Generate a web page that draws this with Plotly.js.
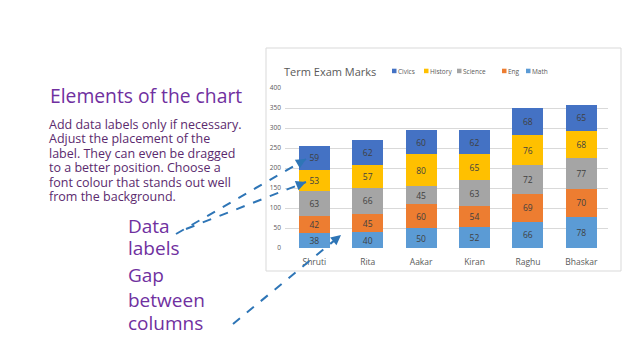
<!DOCTYPE html>
<html>
<head>
<meta charset="utf-8">
<script src="https://cdn.plot.ly/plotly-3.0.1.min.js"></script>
<style>
html,body{margin:0;padding:0;background:#fff;}
#chart{width:638px;height:359px;}
</style>
</head>
<body>
<div id="chart"></div>
<script>
// ---- data ----
const students = ["Shruti", "Rita", "Aakar", "Kiran", "Raghu", "Bhaskar"];
const seriesNames = ["Math", "Eng", "Science", "History", "Civics"];
const math    = [38, 40, 50, 52, 66, 78];
const eng     = [42, 45, 60, 54, 69, 70];
const science = [63, 66, 45, 63, 72, 77];
const history = [53, 57, 80, 65, 76, 68];
const civics  = [59, 62, 60, 62, 68, 65];
const yTicks  = [0, 50, 100, 150, 200, 250, 300, 350, 400];
const chartTitle = "Term Exam Marks";
const heading = "Elements of the chart";
const paragraph = ["Add data labels only if necessary.", "Adjust the placement of the", "label. They can even be dragged", "to a better position. Choose a", "font colour that stands out well", "from the background."];
const callout1 = ["Data", "labels"];
const callout2 = ["Gap", "between", "columns"];

// ---- styling ----
const colors = ["#5b9bd5", "#ed7d31", "#a5a5a5", "#ffc000", "#4472c4"];
const seriesValues = [math, eng, science, history, civics];
const FONT = "Open Sans, DejaVu Sans, sans-serif";
const L = 285, T = 88, W = 323, H = 160, FW = 638, FH = 359;
const px = x => (x - L) / W;
const py = y => (T + H - y) / H;

const traces = seriesNames.map((name, i) => ({
  type: "bar",
  name: name,
  x: students,
  y: seriesValues[i],
  text: seriesValues[i].map(String),
  textposition: "inside",
  insidetextanchor: "middle",
  constraintext: "none",
  textangle: 0,
  textfont: {family: FONT, size: 8.5, color: "#404040"},
  marker: {color: colors[i], line: {width: 0}},
  hoverinfo: "skip",
  showlegend: false
}));

const annotations = [];
const shapes = [];

// chart frame
shapes.push({type: "rect", xref: "paper", yref: "paper", x0: px(266), x1: px(621), y0: py(48), y1: py(271),
  line: {color: "#d9d9d9", width: 1}, fillcolor: "rgba(0,0,0,0)", layer: "below"});

// chart title
annotations.push({xref: "paper", yref: "paper", x: px(282), y: py(71), xanchor: "left", yanchor: "middle",
  text: chartTitle, showarrow: false, font: {family: FONT, size: 11, color: "#595959"}});

// manual legend (Civics first)
const legTextX = [398, 430, 463, 508, 532];
const legOrder = [4, 3, 2, 1, 0];
legOrder.forEach((si, k) => {
  const tx = legTextX[k];
  shapes.push({type: "rect", xref: "paper", yref: "paper", x0: px(tx - 6), x1: px(tx - 1.5), y0: py(68.7), y1: py(73.2),
    line: {width: 0}, fillcolor: colors[si]});
  annotations.push({xref: "paper", yref: "paper", x: px(tx - 1), y: py(71), xanchor: "left", yanchor: "middle",
    text: seriesNames[si], showarrow: false, borderpad: 0, font: {family: FONT, size: 6.5, color: "#595959"}});
});

// heading + paragraph
annotations.push({xref: "paper", yref: "paper", x: px(48), y: py(95), xanchor: "left", yanchor: "middle",
  text: heading, showarrow: false, font: {family: FONT, size: 19.3, color: "#7030a0"}});
const paraY = [124, 138.5, 153, 167.5, 182, 196.5];
paragraph.forEach((t, i) => annotations.push({xref: "paper", yref: "paper", x: px(48), y: py(paraY[i]),
  xanchor: "left", yanchor: "middle", text: t, showarrow: false, borderpad: 0,
  font: {family: FONT, size: 12.5, color: "#5b2a6e"}}));
const c1Y = [226, 248], c2Y = [275, 300, 323];
callout1.forEach((t, i) => annotations.push({xref: "paper", yref: "paper", x: px(127), y: py(c1Y[i]),
  xanchor: "left", yanchor: "middle", text: t, showarrow: false, borderpad: 0,
  font: {family: FONT, size: 19, color: "#7030a0"}}));
callout2.forEach((t, i) => annotations.push({xref: "paper", yref: "paper", x: px(127), y: py(c2Y[i]),
  xanchor: "left", yanchor: "middle", text: t, showarrow: false, borderpad: 0,
  font: {family: FONT, size: 19, color: "#7030a0"}}));

// dashed arrows
const arrowColor = "#2e75b6";
const arrows = [[176, 234, 306, 159], [186, 229, 306, 182], [233, 324, 341, 235]];
arrows.forEach(([x0, y0, x1, y1]) => {
  shapes.push({type: "line", xref: "paper", yref: "paper", x0: px(x0), y0: py(y0), x1: px(x1), y1: py(y1),
    line: {color: arrowColor, width: 2, dash: "dash"}});
  const len = Math.hypot(x1 - x0, y1 - y0);
  const ux = (x1 - x0) / len, uy = (y1 - y0) / len;
  annotations.push({xref: "paper", yref: "paper", x: px(x1), y: py(y1), ax: -ux * 6, ay: -uy * 6,
    showarrow: true, arrowhead: 2, arrowsize: 1, arrowwidth: 2, arrowcolor: arrowColor, text: ""});
});

const layout = {
  width: FW, height: FH,
  margin: {l: L, r: FW - L - W, t: T, b: FH - T - H, pad: 0},
  paper_bgcolor: "#ffffff", plot_bgcolor: "#ffffff",
  barmode: "stack", bargap: 0.42,
  showlegend: false,
  xaxis: {range: [-0.55, 5.5], showgrid: false, zeroline: false, showline: false, ticks: "",
    ticklabelstandoff: 7,
    tickfont: {family: FONT, size: 8.5, color: "#595959"}, fixedrange: true},
  yaxis: {range: [0, 400], tickvals: yTicks, showgrid: true, gridcolor: "#d9d9d9", gridwidth: 1,
    zeroline: false, showline: false, ticks: "", ticklabelstandoff: 3,
    tickfont: {family: FONT, size: 6.5, color: "#595959"}, fixedrange: true},
  shapes: shapes,
  annotations: annotations,
  font: {family: FONT}
};

Plotly.newPlot("chart", traces, layout, {displayModeBar: false, staticPlot: true});
</script>
</body>
</html>
